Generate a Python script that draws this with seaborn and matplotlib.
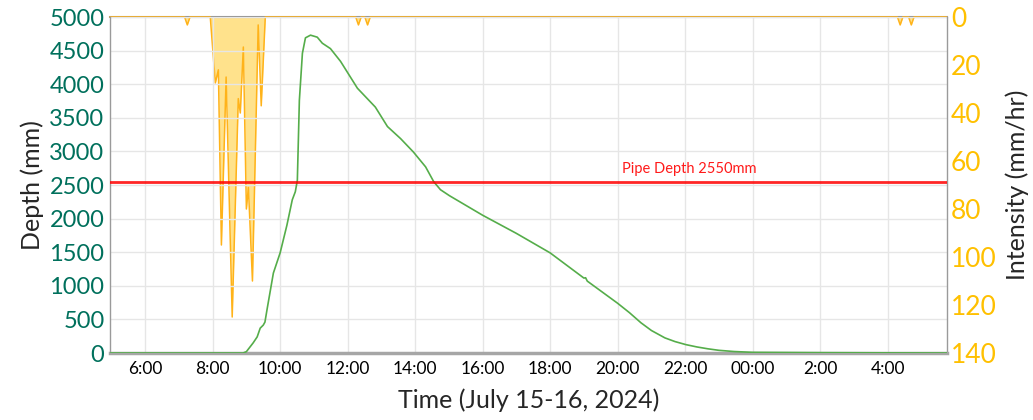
import numpy as np
import pandas as pd
import matplotlib.pyplot as plt
import seaborn as sns

# depth readings (hours since midnight July 15, mm)
depth_hours = [4.96, 8.9, 9.0, 9.2, 9.32, 9.41, 9.5, 9.55, 9.62, 9.8, 10.0, 10.2, 10.36, 10.45,
               10.51, 10.57, 10.66, 10.75, 10.9, 11.1, 11.25, 11.49, 11.79, 12.29, 12.82, 13.18,
               13.57, 13.95, 14.31, 14.55, 14.75, 15.02, 16.0, 17.0, 18.0, 19.0, 19.05, 19.1,
               20.0, 20.35, 20.69, 21.0, 21.4, 21.7, 22.02, 22.35, 22.68, 23.0, 23.45, 24.0,
               26.0, 29.75]
depth_mm = [0, 0, 20, 150, 240, 370, 415, 460, 670, 1190, 1490, 1900, 2280, 2400,
            2570, 3760, 4460, 4690, 4730, 4700, 4610, 4530, 4340, 3940, 3660, 3370,
            3190, 2990, 2770, 2550, 2430, 2340, 2050, 1780, 1490, 1115, 1120, 1070,
            740, 600, 450, 335, 225, 170, 125, 90, 62, 40, 22, 10,
            5, 0]

# rainfall intensity (hours, mm/hr)
rain_hours = [4.96, 7.17, 7.25, 7.33, 7.93, 8.08, 8.17, 8.26, 8.40, 8.58, 8.76, 8.82, 8.91,
              9.00, 9.06, 9.18, 9.35, 9.44, 9.56, 12.24, 12.32, 12.40, 12.51, 12.59, 12.67,
              28.29, 28.37, 28.45, 28.62, 28.70, 28.78, 29.75]
rain_mmhr = [0, 0, 3.3, 0, 0, 27.5, 22, 95, 25, 125, 34, 40, 12.5,
             80, 71, 110, 3.3, 37, 0, 0, 3.3, 0, 0, 3.3, 0,
             0, 3.3, 0, 0, 3.3, 0, 0]

pipe_depth = 2550
tick_hours = [6, 8, 10, 12, 14, 16, 18, 20, 22, 24, 26, 28]
tick_labels = ["6:00", "8:00", "10:00", "12:00", "14:00", "16:00", "18:00", "20:00",
               "22:00", "00:00", "2:00", "4:00"]

depth_df = pd.DataFrame({"hour": depth_hours, "depth": depth_mm})
rain_df = pd.DataFrame({"hour": rain_hours, "rain": rain_mmhr})

sns.set_style("whitegrid")
plt.rcParams['font.family'] = ['Lato', 'DejaVu Sans']

fig = plt.figure(figsize=(10.33, 4.20), dpi=100)
ax = fig.add_axes([0.1065, 0.1595, 0.81, 0.80])

ax.grid(True, color="#e6e6e6", linewidth=1)
sns.lineplot(data=depth_df, x="hour", y="depth", ax=ax, color="#55ad4a", linewidth=1.2, zorder=3)
ax.axhline(pipe_depth, color="#ff0000", linewidth=2, alpha=0.85, zorder=4)
ax.text(20.12, 2640, "Pipe Depth 2550mm", color="#ff1a1a", fontsize=10.5, va="bottom")

ax.set_xlim(4.96, 29.75)
ax.set_ylim(0, 5000)
ax.set_yticks(np.arange(0, 5001, 500))
ax.set_xticks(tick_hours)
ax.set_xticklabels(tick_labels)
ax.tick_params(axis="x", labelsize=12.5, colors="black", pad=6, length=0)
ax.tick_params(axis="y", labelsize=17, labelcolor="#00705c", length=0, pad=4)
ax.set_xlabel("Time (July 15-16, 2024)", fontsize=18, labelpad=8)
ax.set_ylabel("Depth (mm)", fontsize=18, labelpad=4)

for side in ["left", "right"]:
    ax.spines[side].set_color("#9a9a9a")
    ax.spines[side].set_linewidth(1)
ax.spines["top"].set_visible(False)
ax.spines["bottom"].set_color("#a6a6a6")
ax.spines["bottom"].set_linewidth(2.5)

ax2 = ax.twinx()
ax2.fill_between(rain_df["hour"], 0, rain_df["rain"], color="#ffc000", alpha=0.45, linewidth=0)
sns.lineplot(data=rain_df, x="hour", y="rain", ax=ax2, color="#ffb31a", linewidth=1.1,
             clip_on=False, zorder=3)
ax2.set_ylim(140, 0)
ax2.set_yticks(np.arange(0, 141, 20))
ax2.grid(False)
ax2.tick_params(axis="y", labelsize=19, labelcolor="#ffc000", length=0, pad=3)
ax2.set_ylabel("Intensity (mm/hr)", fontsize=18, labelpad=6)
ax2.set_xlabel("")
for side in ["left", "right", "bottom"]:
    ax2.spines[side].set_visible(False)
ax2.spines["top"].set_color("#9a9a9a")
ax2.spines["top"].set_linewidth(1.5)
ax2.spines["top"].set_zorder(1)
ax.set_zorder(ax2.get_zorder() + 1)
ax.patch.set_visible(False)

fig.savefig("out.png", dpi=100)
